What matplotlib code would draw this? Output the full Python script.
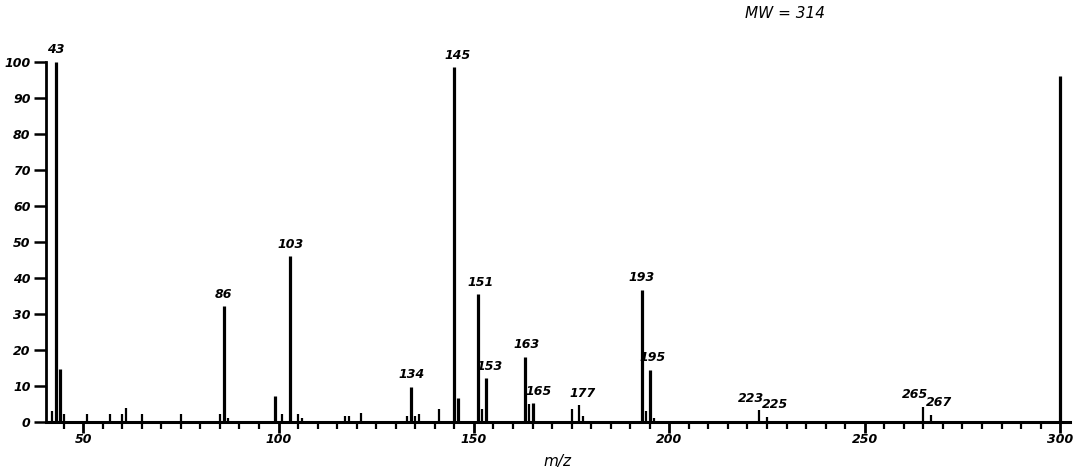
import matplotlib
matplotlib.use("Agg")
import matplotlib.pyplot as plt
from matplotlib.ticker import MultipleLocator

# mass spectrum, relative intensity (%)
mz = [42, 43, 44, 45, 51, 57, 60, 61, 65, 75, 85, 86, 87, 99, 101, 103, 105, 106,
      117, 118, 121, 133, 134, 135, 136, 141, 145, 146, 151, 152, 153, 163, 164,
      165, 175, 177, 178, 193, 194, 195, 196, 223, 225, 265, 267, 300]
intensity = [3, 100, 14.5, 2, 2, 2, 2, 3.7, 2, 2, 2, 32, 1, 7, 2, 46, 2, 1,
             1.5, 1.5, 2.5, 1.5, 9.7, 1.5, 2, 3.5, 98.5, 6.5, 35.4, 3.5, 12, 18, 5,
             5.1, 3.4, 4.6, 1.5, 36.6, 3, 14.4, 1, 3.2, 1.4, 4.2, 1.9, 96]

labelled = [43, 86, 103, 134, 145, 151, 153, 163, 165, 177, 193, 195, 223, 225, 265, 267]
# label nudges in points (dx)
label_dx = {145: 2, 151: 2, 153: 3, 163: 1, 165: 4, 177: 2, 193: 0, 195: 2,
            223: -6, 225: 6, 265: -6, 267: 6}

fig = plt.figure(figsize=(10.74, 4.70), dpi=100)
ax = fig.add_axes([0.0428, 0.1028, 0.9534, 0.766])

heights = dict(zip(mz, intensity))
for m, h in zip(mz, intensity):
    lw = 2.3 if h > 5 else 1.6
    ax.vlines(m, 0, h, color="black", lw=lw, clip_on=False)

for m in labelled:
    dx = label_dx.get(m, 0)
    ax.annotate(str(m), (m, heights[m]), xytext=(dx, 4), textcoords="offset points",
                ha="center", va="bottom", fontsize=9, fontstyle="italic",
                fontweight="bold", annotation_clip=False)

ax.set_xlim(40.5, 302.5)
ax.set_ylim(0, 100)
ax.spines["top"].set_visible(False)
ax.spines["right"].set_visible(False)
ax.spines["bottom"].set_linewidth(2.2)
ax.spines["left"].set_linewidth(2.0)

ax.xaxis.set_major_locator(MultipleLocator(50))
ax.xaxis.set_minor_locator(MultipleLocator(5))
ax.yaxis.set_major_locator(MultipleLocator(10))
ax.tick_params(axis="x", which="major", direction="out", length=8, width=2, pad=0)
ax.tick_params(axis="x", which="minor", direction="out", length=5, width=1.6)
ax.tick_params(axis="y", which="major", direction="out", length=9, width=1.8, pad=2)
for lab in ax.get_xticklabels() + ax.get_yticklabels():
    lab.set_fontstyle("italic")
    lab.set_fontweight("bold")
    lab.set_fontsize(9)

ax.set_xlabel("m/z", fontsize=11, fontstyle="italic", labelpad=6)
fig.text(0.731, 0.972, "MW = 314", fontsize=11, fontstyle="italic", ha="center", va="center")

fig.savefig("out.png", dpi=100)
